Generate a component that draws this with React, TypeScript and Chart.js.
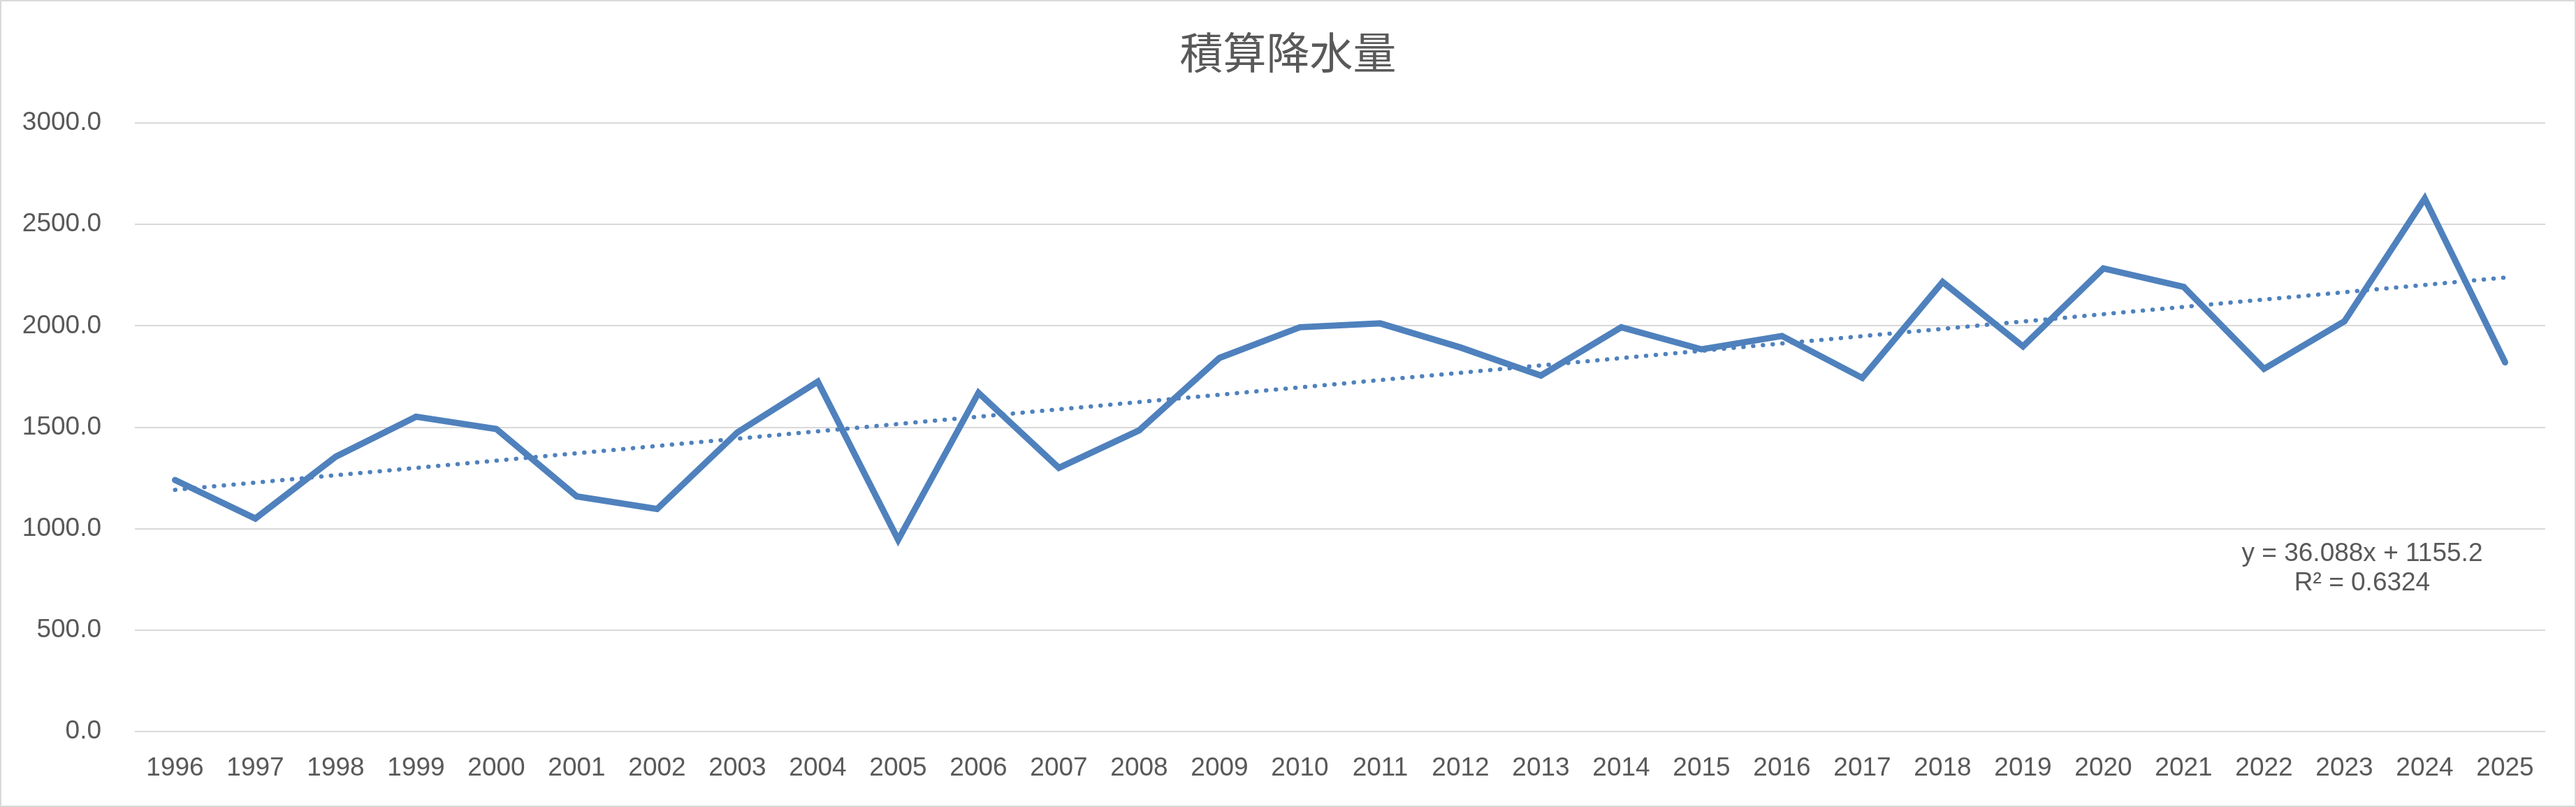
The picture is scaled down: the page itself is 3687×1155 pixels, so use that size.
import React, { useEffect, useRef } from "react";
import { Chart, registerables } from "chart.js";

Chart.register(...registerables);

const TITLE = "積算降水量";
const years = [
  "1996", "1997", "1998", "1999", "2000", "2001", "2002", "2003", "2004", "2005",
  "2006", "2007", "2008", "2009", "2010", "2011", "2012", "2013", "2014", "2015",
  "2016", "2017", "2018", "2019", "2020", "2021", "2022", "2023", "2024", "2025",
];
const precipitation = [
  1240, 1050, 1355, 1552, 1491, 1159, 1097, 1475, 1725, 945,
  1670, 1300, 1485, 1842, 1993, 2012, 1893, 1755, 1993, 1884,
  1950, 1743, 2216, 1899, 2283, 2192, 1788, 2022, 2628, 1820,
];
const trendSlope = 36.088;
const trendIntercept = 1155.2;
const trendR2 = "0.6324";
const yMin = 0;
const yMax = 3000;
const yStep = 500;

const W = 3687;
const H = 1155;
const TEXT = "#595959";
const BLUE = "#4F81BD";
const GRID = "#d9d9d9";

export default function App() {
  const ref = useRef<HTMLCanvasElement | null>(null);

  useEffect(() => {
    const canvas = ref.current;
    if (!canvas) return;
    const trend = years.map((_, i) => trendSlope * (i + 1) + trendIntercept);

    const overlay = {
      id: "overlay",
      afterDraw(chart: any) {
        const ctx = chart.ctx;
        ctx.save();
        ctx.fillStyle = TEXT;
        ctx.textAlign = "center";
        ctx.textBaseline = "middle";
        ctx.font = '62px "Noto Sans CJK JP"';
        ctx.fillText(TITLE, W / 2, 75);
        ctx.font = '37px "Liberation Sans"';
        ctx.fillText(`y = ${trendSlope}x + ${trendIntercept}`, 3381, 793);
        ctx.fillText(`R² = ${trendR2}`, 3381, 835);
        ctx.strokeStyle = GRID;
        ctx.lineWidth = 2;
        ctx.strokeRect(1, 1, W - 2, H - 2);
        ctx.restore();
      },
    };

    const chart = new Chart(canvas, {
      type: "line",
      data: {
        labels: years,
        datasets: [
          {
            label: "trend",
            data: trend,
            borderColor: BLUE,
            borderWidth: 6,
            borderDash: [0.5, 13.5],
            borderCapStyle: "round",
            pointRadius: 0,
            fill: false,
            tension: 0,
          },
          {
            label: TITLE,
            data: precipitation,
            borderColor: BLUE,
            borderWidth: 9,
            borderCapStyle: "round",
            pointRadius: 0,
            fill: false,
            tension: 0,
          },
        ],
      },
      options: {
        responsive: false,
        animation: false,
        devicePixelRatio: 1,
        layout: { padding: { left: 0, right: 44, top: 176, bottom: 0 } },
        plugins: {
          legend: { display: false },
          tooltip: { enabled: false },
          title: { display: false },
        },
        scales: {
          x: {
            type: "category",
            offset: true,
            grid: { display: false, drawTicks: false },
            border: { display: false },
            ticks: {
              color: TEXT,
              font: { family: "Liberation Sans", size: 37 },
              padding: 31,
              maxRotation: 0,
              autoSkip: false,
            },
            afterFit: (s: any) => {
              s.height = 108;
            },
          },
          y: {
            min: yMin,
            max: yMax,
            grid: { color: GRID, lineWidth: 2, drawTicks: false },
            border: { display: false },
            ticks: {
              stepSize: yStep,
              color: TEXT,
              font: { family: "Liberation Sans", size: 37 },
              padding: 48,
              callback: (v: any) => Number(v).toFixed(1),
            },
            afterFit: (s: any) => {
              s.width = 193;
            },
          },
        },
      },
      plugins: [overlay],
    });
    return () => chart.destroy();
  }, []);

  return (
    <div style={{ position: "fixed", left: 0, top: 0, width: W, height: H, background: "#fff" }}>
      <canvas ref={ref} width={W} height={H} style={{ width: W, height: H, display: "block" }} />
    </div>
  );
}
